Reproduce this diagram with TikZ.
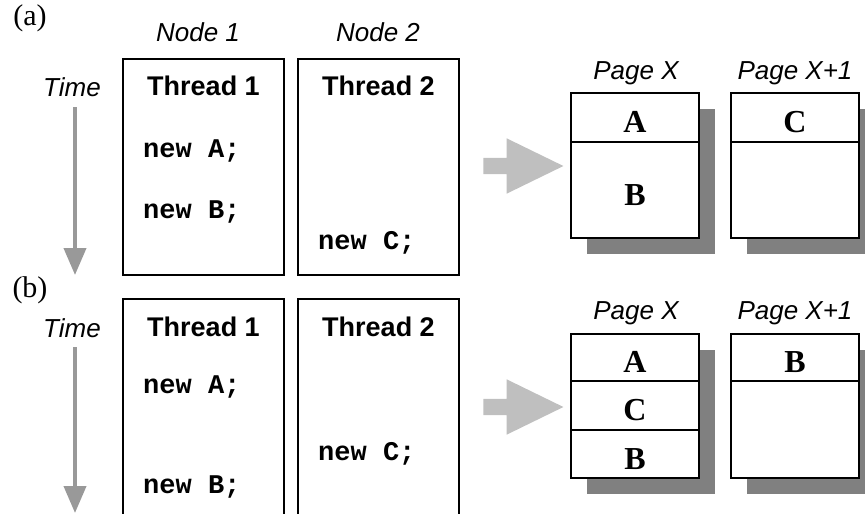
\documentclass[tikz,border=0pt]{standalone}
\usepackage{fontspec}
\setmainfont{Liberation Serif}
\setsansfont{Liberation Sans}
\setmonofont{Liberation Mono}
\usetikzlibrary{positioning,shadows,shapes.arrows,arrows.meta}

\tikzset{
  tag/.style={font=\fontsize{30}{33}\selectfont},
  lbl/.style={font=\sffamily\itshape\fontsize{26}{29}\selectfont},
  title/.style={font=\sffamily\bfseries\fontsize{27}{30}\selectfont},
  code/.style={anchor=west, inner sep=0pt, font=\ttfamily\bfseries\fontsize{27}{30}\selectfont},
  thread/.style={draw, line width=1.2pt, minimum width=161pt, anchor=north west, inner sep=0pt, outer sep=0pt},
  page/.style={draw, fill=white, line width=1.2pt, minimum width=128pt, inner sep=0pt, outer sep=0pt,
    anchor=north west, drop shadow={shadow xshift=16pt, shadow yshift=-16pt, fill=black!50, opacity=1}},
  cell/.style={draw, line width=1.2pt, minimum width=128pt, inner sep=0pt, outer sep=0pt,
    text height=30pt, text depth=0pt, font=\bfseries\fontsize{32}{35}\selectfont},
  timearrow/.style={draw=black!40, line width=4pt, -{Triangle[length=27pt,width=22pt]}},
  bigarrow/.style={single arrow, fill=black!25, minimum height=80pt, inner xsep=0pt, inner ysep=8pt,
    single arrow head extend=19.5pt, single arrow tip angle=52}
}

\begin{document}
\begin{tikzpicture}[x=1pt,y=-1pt]
  \clip (0,0) rectangle (865,514);

  % (a)
  \node[tag] (taga) at (30,18) {(a)};
  \node[lbl] (node1) at (198,32) {Node 1};
  \node[lbl] (node2) at (378,32) {Node 2};
  \node[lbl] (timea) at (72,87) {Time};
  \coordinate (ta1) at (75,107);
  \coordinate (ta2) at (75,275);
  \draw[timearrow] (ta1) -- (ta2);

  \node[thread, minimum height=216pt] (th1a) at (123,59) {};
  \node[thread, minimum height=216pt] (th2a) at (298,59) {};
  \node[title] (tt1a) at (th1a.center |- 0,86) {Thread 1};
  \node[title] (tt2a) at (th2a.center |- 0,86) {Thread 2};
  \node[code] (newaa) at (143,151) {new A;};
  \node[code] (newba) at (143,212) {new B;};
  \node[code] (newca) at (318,243) {new C;};

  \node[bigarrow] (arra) at (515,166) {};

  \node[lbl] (pgxa) at (636,73) {Page X};
  \node[lbl] (pgya) at (795,73) {Page X+1};
  \node[page, minimum height=145pt] (pxa) at (571,93) {};
  \node[cell, minimum height=49pt, anchor=north] (cAa) at (pxa.north) {A};
  \node[cell, minimum height=96pt, below=0pt of cAa] (cBa) {B};
  \node[page, minimum height=145pt] (pya) at (731,93) {};
  \node[cell, minimum height=49pt, anchor=north] (cCa) at (pya.north) {C};
  \node[cell, minimum height=96pt, below=0pt of cCa] (cEa) {};

  % (b)
  \node[tag] (tagb) at (30,290) {(b)};
  \node[lbl] (timeb) at (72,328) {Time};
  \coordinate (tb1) at (75,347);
  \coordinate (tb2) at (75,513);
  \draw[timearrow] (tb1) -- (tb2);

  \node[thread, minimum height=240pt] (th1b) at (123,299) {};
  \node[thread, minimum height=240pt] (th2b) at (298,299) {};
  \node[title] (tt1b) at (th1b.center |- 0,327) {Thread 1};
  \node[title] (tt2b) at (th2b.center |- 0,327) {Thread 2};
  \node[code] (newab) at (143,387) {new A;};
  \node[code] (newbb) at (143,487) {new B;};
  \node[code] (newcb) at (318,454) {new C;};

  \node[bigarrow] (arrb) at (515,407) {};

  \node[lbl] (pgxb) at (636,313) {Page X};
  \node[lbl] (pgyb) at (795,313) {Page X+1};
  \node[page, minimum height=144pt] (pxb) at (571,334) {};
  \node[cell, minimum height=47pt, anchor=north] (cAb) at (pxb.north) {A};
  \node[cell, minimum height=49pt, below=0pt of cAb] (cCb) {C};
  \node[cell, minimum height=48pt, below=0pt of cCb] (cBb) {B};
  \node[page, minimum height=144pt] (pyb) at (731,334) {};
  \node[cell, minimum height=47pt, anchor=north] (cDb) at (pyb.north) {B};
  \node[cell, minimum height=97pt, below=0pt of cDb] (cEb) {};
\end{tikzpicture}
\end{document}
